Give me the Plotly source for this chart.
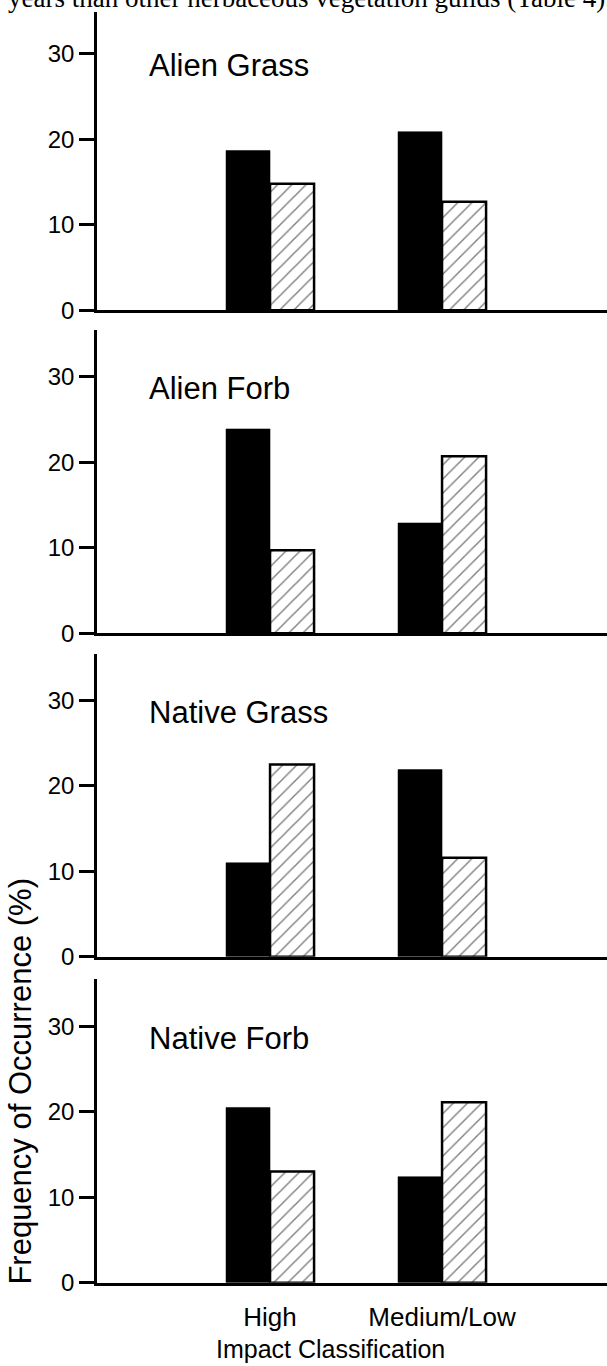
import plotly.graph_objects as go

# Impact classes on the x axis and the four vegetation guilds (one panel each)
categories = ["High", "Medium/Low"]
guilds = ["Alien Grass", "Alien Forb", "Native Grass", "Native Forb"]

# Frequency of occurrence (%) - solid bars
alien_grass_solid = [18.7, 20.9]
alien_forb_solid = [23.9, 12.9]
native_grass_solid = [11.0, 21.9]
native_forb_solid = [20.5, 12.4]

# Frequency of occurrence (%) - hatched bars
alien_grass_hatched = [14.8, 12.7]
alien_forb_hatched = [9.7, 20.7]
native_grass_hatched = [22.5, 11.6]
native_forb_hatched = [13.0, 21.1]

y_tick_values = [0, 10, 20, 30]

solid_series = [alien_grass_solid, alien_forb_solid, native_grass_solid, native_forb_solid]
hatched_series = [alien_grass_hatched, alien_forb_hatched, native_grass_hatched, native_forb_hatched]

W, H = 607, 1366
FONT = "Liberation Sans, Arial, Helvetica, sans-serif"

# panel geometry in pixels: baseline (value 0) and top of the y axis line
baselines = [313.3, 639.3, 966.0, 1295.0]
axis_tops = [12.0, 333.0, 660.0, 988.0]
px_per_unit = 8.63
x_left_px = 97.0

fig = go.Figure()

for i in range(4):
    n = "" if i == 0 else str(i + 1)
    xa, ya = "x" + n, "y" + n
    fig.add_trace(go.Bar(
        x=categories, y=solid_series[i], xaxis=xa, yaxis=ya,
        name="solid", showlegend=False,
        marker=dict(color="black", line=dict(color="black", width=0.5)),
    ))
    fig.add_trace(go.Bar(
        x=categories, y=hatched_series[i], xaxis=xa, yaxis=ya,
        name="hatched", showlegend=False,
        marker=dict(
            color="white",
            line=dict(color="black", width=2.5),
            pattern=dict(shape="/", fgcolor="black", bgcolor="white",
                         size=10, solidity=0.14),
        ),
    ))

    top_val = (baselines[i] - axis_tops[i]) / px_per_unit
    dom = [1 - baselines[i] / H, 1 - axis_tops[i] / H]
    fig.update_layout(**{
        "xaxis" + n: dict(
            domain=[x_left_px / W, 1], anchor=ya,
            type="category", range=[-1.006, 1.959],
            showline=True, linecolor="black", linewidth=3,
            ticks="", showgrid=False, zeroline=False,
            showticklabels=(i == 3), ticklabelstandoff=9,
            tickfont=dict(family=FONT, size=26, color="black"),
        ),
        "yaxis" + n: dict(
            domain=dom, anchor=xa, range=[0, top_val],
            showline=True, linecolor="black", linewidth=2.5,
            ticks="outside", ticklen=15, tickwidth=3, tickcolor="black",
            tickvals=y_tick_values, showgrid=False, zeroline=False,
            tickfont=dict(family=FONT, size=24, color="black"),
        ),
    })
    fig.add_annotation(
        text=guilds[i], xref="paper", yref=ya, x=147 / W, y=28.6,
        xanchor="left", yanchor="middle", showarrow=False,
        font=dict(family=FONT, size=31, color="black"),
    )

# running text line above the figure (only its lower part lies on the page)
fig.add_annotation(
    text="years than other herbaceous vegetation guilds (Table 4).",
    xref="paper", yref="paper", x=6 / W, y=1 - 15 / H,
    xanchor="left", yanchor="bottom", showarrow=False,
    font=dict(family="Liberation Serif, Times New Roman, serif", size=27, color="black"),
)

# axis titles
fig.add_annotation(
    text="Frequency of Occurrence (%)", textangle=-90,
    xref="paper", yref="paper", x=21 / W, y=1 - 1092 / H,
    xanchor="center", yanchor="middle", showarrow=False,
    font=dict(family=FONT, size=31, color="black"),
)
fig.add_annotation(
    text="Impact Classification",
    xref="paper", yref="paper", x=330 / W, y=1 - 1362 / H,
    xanchor="center", yanchor="middle", showarrow=False,
    font=dict(family=FONT, size=25, color="black"),
)

fig.update_layout(
    width=W, height=H,
    margin=dict(l=0, r=0, t=0, b=0),
    paper_bgcolor="white", plot_bgcolor="white",
    barmode="group", bargap=0.488, bargroupgap=0,
    font=dict(family=FONT, color="black"),
)

fig.write_html("out.html")
